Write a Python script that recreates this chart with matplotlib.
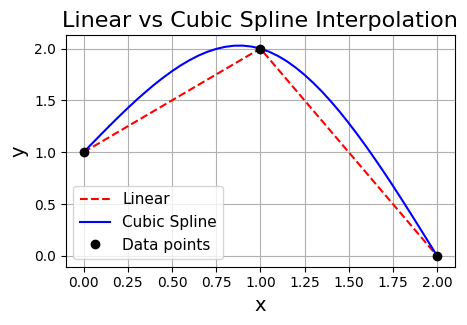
import numpy as np
import matplotlib.pyplot as plt

# data points
x_pts = [0, 1, 2]
y_pts = [1, 2, 0]

# cubic spline curve
x_spline = [0.0, 0.05, 0.1, 0.15, 0.2, 0.25, 0.3, 0.35, 0.4, 0.45, 0.5,
            0.55, 0.6, 0.65, 0.7, 0.75, 0.8, 0.85, 0.9, 0.95, 1.0,
            1.05, 1.1, 1.15, 1.2, 1.25, 1.3, 1.35, 1.4, 1.45, 1.5,
            1.55, 1.6, 1.65, 1.7, 1.75, 1.8, 1.85, 1.9, 1.95, 2.0]
y_spline = [1.0, 1.087, 1.174, 1.260, 1.344, 1.426, 1.505, 1.580, 1.652, 1.719, 1.781,
            1.838, 1.888, 1.932, 1.968, 1.996, 2.016, 2.027, 2.028, 2.019, 2.0,
            1.969, 1.928, 1.877, 1.816, 1.746, 1.668, 1.582, 1.488, 1.388, 1.281,
            1.169, 1.052, 0.930, 0.805, 0.676, 0.544, 0.410, 0.274, 0.137, 0.0]

fig = plt.figure(figsize=(4.67, 3.25), dpi=100)
plt.plot(x_pts, y_pts, 'r--', label='Linear')
plt.plot(x_spline, y_spline, 'b-', label='Cubic Spline')
plt.plot(x_pts, y_pts, 'ko', label='Data points')
plt.title('Linear vs Cubic Spline Interpolation', fontsize=16)
plt.xlabel('x', fontsize=14)
plt.ylabel('y', fontsize=14)
plt.legend(fontsize=11)
plt.grid(True)
plt.subplots_adjust(left=0.141, right=0.974, top=0.892, bottom=0.18)
plt.savefig('out.png')
